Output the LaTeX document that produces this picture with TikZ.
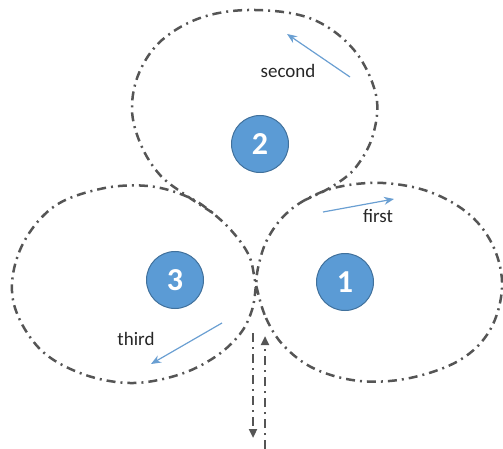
\documentclass[tikz,border=0pt]{standalone}
\usepackage{fontspec}
\setmainfont{Carlito}
\usetikzlibrary{arrows.meta}
\definecolor{lc}{HTML}{555555}
\definecolor{bfill}{HTML}{5B9BD5}
\definecolor{bdraw}{HTML}{41719C}
\definecolor{arr}{HTML}{6A9FD2}
\begin{document}
\begin{tikzpicture}[x=1pt,y=-1pt,
  loopline/.style={draw=lc,line width=2.5pt,dash pattern=on 9pt off 5pt on 2pt off 5pt},
  numc/.style={circle,fill=bfill,draw=bdraw,line width=1pt,minimum size=57pt,inner sep=0pt,
    text=white,font=\fontsize{32}{32}\selectfont\bfseries},
  lbl/.style={font=\fontsize{19}{19}\selectfont,text=black!85,inner sep=0pt},
  barrow/.style={draw=arr,line width=1.2pt,-{Stealth[length=10pt,width=8pt]}},
  varrow/.style={draw=lc,line width=2.5pt,dash pattern=on 9pt off 5pt on 2pt off 5pt,-{Triangle[length=9pt,width=8pt]}}]
\useasboundingbox (0,0) rectangle (503,449);
% loops 1 and 3 with crossing
\draw[loopline] plot[smooth cycle,tension=0.6] coordinates {
 (256,285) (266,318) (284,346) (315,369) (360,381) (410,378) (460,360) (490,330) (502,288) (494,248) (470,215) (430,192) (383,183) (338,187) (305,200) (282,218) (266,242) (258,268)
 (256,285) (252,310) (240,334) (215,357) (178,375) (130,383) (80,373) (38,347) (13,300) (20,250) (52,208) (100,189) (148,186) (188,197) (215,215) (236,236) (250,258)};
% loop 2
\draw[loopline] plot[smooth,tension=0.6] coordinates {
 (213,213) (187,196) (160,175) (141,145) (132,110) (139,73) (162,40) (203,17) (255,10) (312,19) (354,50) (376,95) (373,135) (356,167) (333,186) (305,200)};
% number circles
\node[numc] (n2) at (260,144) {2};
\node[numc] (n3) at (175,280) {3};
\node[numc] (n1) at (345,282) {1};
% labels
\node[lbl] (lsecond) at (288,71) {second};
\node[lbl] (lfirst) at (378,216) {first};
\node[lbl] (lthird) at (136,339) {third};
% blue arrows
\coordinate (s1) at (350,77); \coordinate (s2) at (287,34);
\coordinate (f1) at (323,212); \coordinate (f2) at (394,199);
\coordinate (t1) at (222,323); \coordinate (t2) at (151,364);
\draw[barrow] (s1) -- (s2);
\draw[barrow] (f1) -- (f2);
\draw[barrow] (t1) -- (t2);
% vertical arrows
\coordinate (d1) at (253,333); \coordinate (d2) at (253,438);
\coordinate (u1) at (265,449); \coordinate (u2) at (265,336);
\draw[varrow] (d1) -- (d2);
\draw[varrow] (u1) -- (u2);
\end{tikzpicture}
\end{document}
